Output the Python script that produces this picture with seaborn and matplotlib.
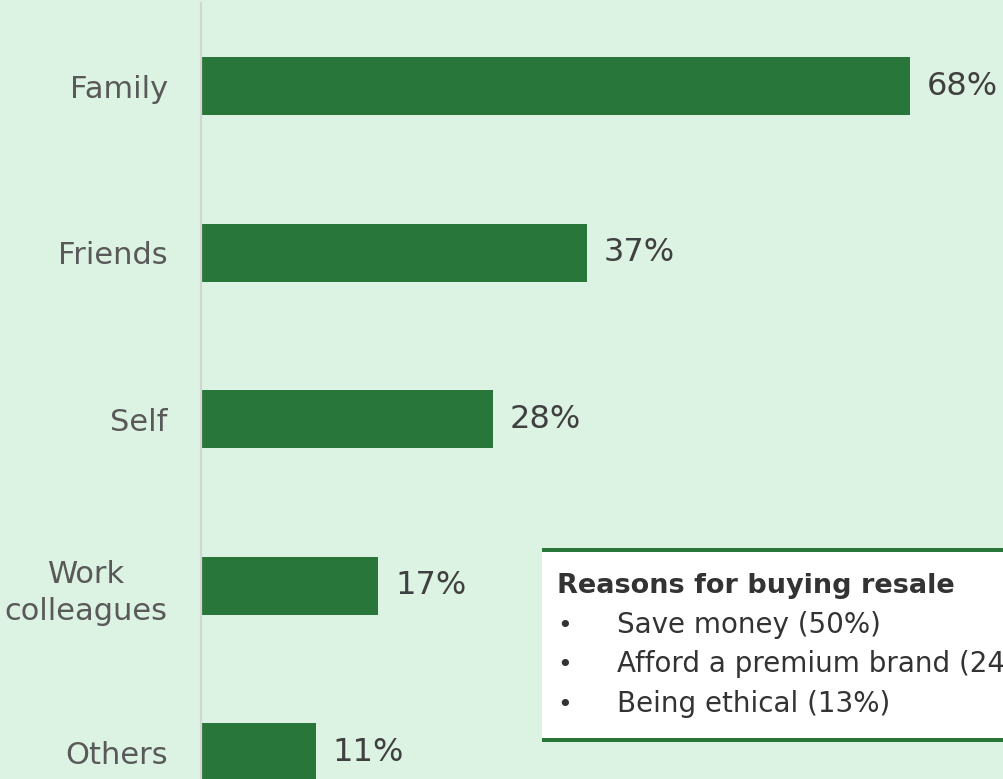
import matplotlib
matplotlib.use("Agg")
import matplotlib.pyplot as plt
from matplotlib.patches import Rectangle
import seaborn as sns
import pandas as pd

# Who the resale items were bought for (% of respondents)
categories = ["Family", "Friends", "Self", "Work\ncolleagues", "Others"]
shares = [68, 37, 28, 17, 11]

box_title = "Reasons for buying resale"
reasons = ["Save money (50%)", "Afford a premium brand (24%)", "Being ethical (13%)"]

BG = "#DCF2E2"
BAR = "#28763A"
LABEL_GREY = "#595959"
VALUE_GREY = "#404040"

sns.set_theme(style="white")
plt.rcParams["font.family"] = ["DejaVu Sans"]

W, H = 1004, 779
fig = plt.figure(figsize=(W / 100, H / 100), dpi=100, facecolor=BG)


def fx(px):
    return px / W


def fy(py):
    return 1 - py / H


ax = fig.add_axes([fx(201), 0, 1 - fx(201), 1 - 3 / H])
ax.set_facecolor(BG)

df = pd.DataFrame({"category": categories, "share": shares})
sns.barplot(data=df, x="share", y="category", orient="h", color=BAR,
            width=0.35, saturation=1, ax=ax, edgecolor="none")

ax.set_xlim(0, 77)
ax.set_ylim(4.16, -0.5)
ax.set_xlabel("")
ax.set_ylabel("")
ax.set_xticks([])
ax.tick_params(axis="y", length=0, pad=24, labelsize=22, labelcolor=LABEL_GREY)
for lab in ax.get_yticklabels():
    lab.set_multialignment("center")
    lab.set_linespacing(1.35)

for s in ["top", "right", "bottom"]:
    ax.spines[s].set_visible(False)
ax.spines["left"].set_color("#D4D4D4")
ax.spines["left"].set_linewidth(1.6)

for i, v in enumerate(shares):
    ax.annotate(f"{v}%", xy=(v, i), xytext=(12, 0), textcoords="offset points",
                ha="left", va="center", fontsize=23, color=VALUE_GREY)

# Callout panel with the reasons for buying resale (runs past the right edge)
fig.patches.append(Rectangle((fx(542), fy(740)), fx(700), fy(550) - fy(740),
                             transform=fig.transFigure, facecolor="white",
                             edgecolor="none", zorder=3))
for yb in (550, 740):
    fig.patches.append(Rectangle((fx(542), fy(yb + 2)), fx(700), 4 / H,
                                 transform=fig.transFigure, facecolor=BAR,
                                 edgecolor="none", zorder=4))

fig.text(fx(557), fy(593), box_title, fontsize=19.5, fontweight="bold",
         color="#333333", va="baseline", ha="left", zorder=5)
for k, line in enumerate(reasons):
    yb = 633 + 39.5 * k
    fig.text(fx(557), fy(yb), "\u2022", fontsize=18, color="#333333",
             va="baseline", ha="left", zorder=5)
    fig.text(fx(617), fy(yb), line, fontsize=20, color="#333333",
             va="baseline", ha="left", zorder=5)

fig.savefig("out.png", dpi=100, facecolor=BG)
